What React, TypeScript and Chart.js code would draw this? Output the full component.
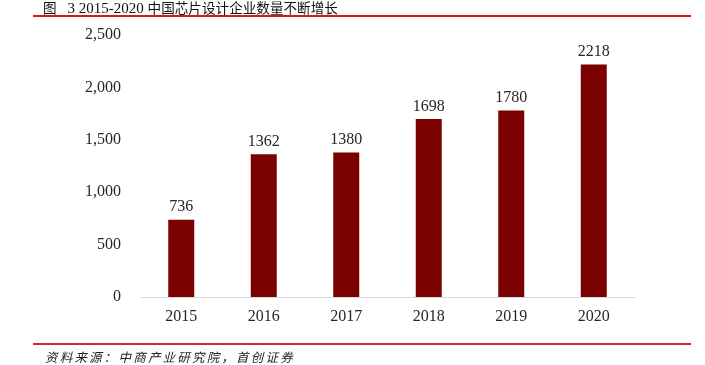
import React, { useEffect, useRef } from "react";
import { Chart, registerables } from "chart.js";

Chart.register(...registerables);

const categories = ["2015", "2016", "2017", "2018", "2019", "2020"];
const companyCounts = [736, 1362, 1380, 1698, 1780, 2218];
const yTicks = [0, 500, 1000, 1500, 2000, 2500];

const SERIF = '"Liberation Serif", "Times New Roman", serif';

const valueLabels = {
  id: "valueLabels",
  afterDatasetsDraw(chart: any) {
    const ctx = chart.ctx;
    const meta = chart.getDatasetMeta(0);
    const data = chart.data.datasets[0].data;
    ctx.save();
    ctx.font = `16px ${SERIF}`;
    ctx.fillStyle = "#262626";
    ctx.textAlign = "center";
    ctx.textBaseline = "alphabetic";
    meta.data.forEach((el: any, i: number) => {
      ctx.fillText(String(data[i]), el.x, el.y - 8.5);
    });
    ctx.restore();
  },
};

export default function App() {
  const ref = useRef<HTMLCanvasElement | null>(null);

  useEffect(() => {
    if (!ref.current) return;
    const chart = new Chart(ref.current, {
      type: "bar",
      data: {
        labels: categories,
        datasets: [
          {
            data: companyCounts,
            backgroundColor: "#7b0000",
            barPercentage: 0.315,
            categoryPercentage: 1,
          },
        ],
      },
      options: {
        animation: false,
        responsive: false,
        maintainAspectRatio: false,
        devicePixelRatio: 1,
        layout: { padding: { top: 35, right: 70, bottom: 0, left: 0 } },
        plugins: {
          legend: { display: false },
          tooltip: { enabled: false },
          title: { display: false },
        },
        scales: {
          x: {
            grid: { display: false, drawTicks: false },
            border: { display: true, color: "#d9d9d9", width: 1 },
            ticks: {
              font: { family: SERIF, size: 16 },
              color: "#262626",
              padding: 10,
              maxRotation: 0,
            },
            afterFit(scale: any) {
              scale.height = 68;
            },
          },
          y: {
            min: 0,
            max: 2500,
            grid: { display: false, drawTicks: false },
            border: { display: false },
            afterBuildTicks(scale: any) {
              scale.ticks = yTicks.map((v) => ({ value: v }));
            },
            ticks: {
              font: { family: SERIF, size: 16 },
              color: "#262626",
              padding: 19,
              callback: (v: any) => Number(v).toLocaleString("en-US"),
            },
            afterFit(scale: any) {
              scale.width = 140;
            },
          },
        },
      },
      plugins: [valueLabels],
    });
    return () => chart.destroy();
  }, []);

  return (
    <div
      style={{
        position: "absolute",
        left: 0,
        top: 0,
        width: 705,
        height: 365,
        background: "#fff",
        overflow: "hidden",
      }}
    >
      <canvas
        ref={ref}
        width={705}
        height={365}
        style={{ position: "absolute", left: 0, top: 0, width: 705, height: 365 }}
      />
      <div
        style={{
          position: "absolute",
          left: 43,
          top: 0,
          lineHeight: "15px",
          fontSize: "13.6px",
          color: "#111",
          whiteSpace: "nowrap",
          fontFamily: '"Noto Sans CJK SC", sans-serif',
        }}
      >
        <span>图</span>
        <span style={{ marginLeft: 11, fontFamily: SERIF, fontSize: "15px" }}>
          3 2015-2020{" "}
        </span>
        <span>中国芯片设计企业数量不断增长</span>
      </div>
      <div
        style={{
          position: "absolute",
          left: 33,
          top: 15,
          width: 658,
          height: 2,
          background: "#e0141e",
        }}
      />
      <div
        style={{
          position: "absolute",
          left: 33,
          top: 343,
          width: 658,
          height: 2,
          background: "#d0282b",
        }}
      />
      <div
        style={{
          position: "absolute",
          left: 45,
          top: 349,
          lineHeight: "15px",
          fontSize: "12.5px",
          letterSpacing: "2.2px",
          fontStyle: "italic",
          color: "#222",
          whiteSpace: "nowrap",
          fontFamily: '"Noto Sans CJK SC", sans-serif',
        }}
      >
        资料来源：中商产业研究院，首创证券
      </div>
    </div>
  );
}
